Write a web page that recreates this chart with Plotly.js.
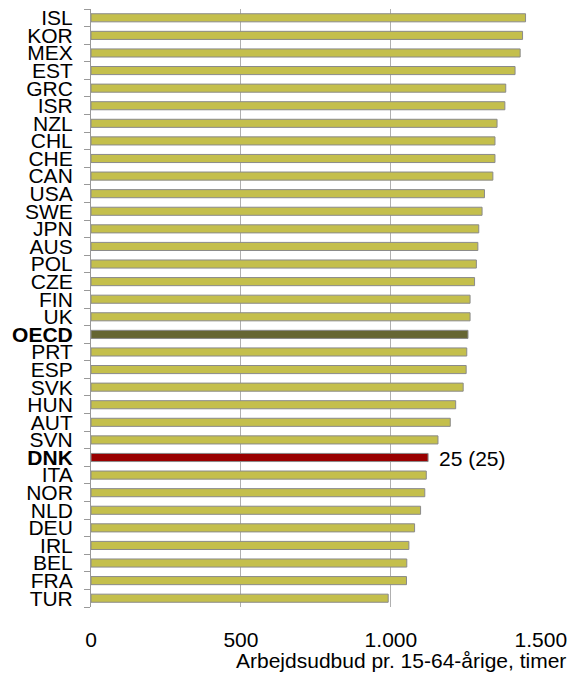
<!DOCTYPE html>
<html>
<head>
<meta charset="utf-8">
<script src="https://cdn.plot.ly/plotly-3.0.1.min.js"></script>
<style>html,body{margin:0;padding:0;background:#fff}#chart{width:579px;height:675px}</style>
</head>
<body>
<div id="chart"></div>
<script>
const countries = ["ISL","KOR","MEX","EST","GRC","ISR","NZL","CHL","CHE","CAN","USA","SWE","JPN","AUS","POL","CZE","FIN","UK","OECD","PRT","ESP","SVK","HUN","AUT","SVN","DNK","ITA","NOR","NLD","DEU","IRL","BEL","FRA","TUR"];
const hours = [1449,1439,1431,1414,1383,1380,1354,1347,1347,1340,1312,1304,1293,1290,1285,1279,1264,1264,1257,1253,1251,1241,1216,1198,1157,1124,1118,1113,1099,1079,1060,1053,1052,991];
const highlight = {"OECD":"#666633","DNK":"#990000"};
const baseColor = "#c4bf4c";
const dnkLabel = "25 (25)";
const xTickVals = [0,500,1000,1500];
const xTitle = "Arbejdsudbud pr. 15-64-årige, timer";

const colors = countries.map(c => highlight[c] || baseColor);
const tickText = countries.map(c => highlight[c] ? "<b>"+c+"</b>" : c);
const dnkIdx = countries.indexOf("DNK");

const FONT = "Liberation Sans, Arial, sans-serif";

Plotly.newPlot("chart", [{
  type: "bar",
  orientation: "h",
  x: hours,
  y: countries,
  marker: {color: colors, line: {color: "#8a8a8a", width: 1}},
  hoverinfo: "x+y"
}], {
  width: 579, height: 675,
  margin: {l: 91, r: 38, t: 9, b: 68},
  paper_bgcolor: "#fff", plot_bgcolor: "#fff",
  separators: ",.",
  bargap: 0.54,
  showlegend: false,
  font: {family: FONT, color: "#000"},
  xaxis: {
    range: [0, 1500.5],
    tickvals: xTickVals,
    tickformat: ",d",
    showgrid: true, gridcolor: "#b0b0b0", gridwidth: 1,
    zeroline: false, showline: false, ticks: "",
    ticklabelstandoff: 18,
    tickfont: {size: 21, family: FONT, color: "#000"}
  },
  yaxis: {
    type: "category",
    autorange: "reversed",
    tickvals: countries,
    ticktext: tickText,
    tickson: "boundaries",
    ticks: "outside", ticklen: 6, tickcolor: "#999", tickwidth: 1,
    showline: true, linecolor: "#999", linewidth: 1,
    showgrid: false, zeroline: false,
    ticklabelstandoff: 13,
    tickfont: {size: 21, family: FONT, color: "#000"}
  },
  annotations: [
    {x: hours[dnkIdx], y: countries[dnkIdx], xref: "x", yref: "y",
     text: dnkLabel, showarrow: false, xanchor: "left", yanchor: "middle",
     xshift: 9, yshift: -1, font: {size: 21, family: FONT, color: "#000"}},
    {x: 1 + 27/450, y: 0, xref: "paper", yref: "paper", yshift: -53,
     text: xTitle, showarrow: false, xanchor: "right", yanchor: "middle",
     font: {size: 21, family: FONT, color: "#000"}}
  ]
}, {displayModeBar: false, staticPlot: true});
</script>
</body>
</html>
